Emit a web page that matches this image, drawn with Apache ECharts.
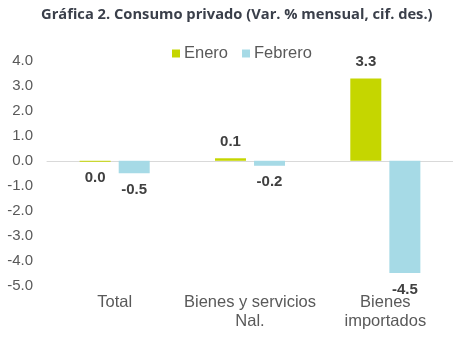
<!DOCTYPE html>
<html>
<head>
<meta charset="utf-8">
<script src="https://cdn.jsdelivr.net/npm/echarts@6/dist/echarts.min.js"></script>
<style>
  html, body { margin: 0; padding: 0; background: #fff; }
  #chart { width: 453px; height: 338px; }
</style>
</head>
<body>
<div id="chart"></div>
<script>
// Consumo privado: variación % mensual, cifras desestacionalizadas
const categories = ['Total', 'Bienes y servicios\nNal.', 'Bienes\nimportados'];
const enero = [-0.04, 0.1, 3.3];
const febrero = [-0.5, -0.2, -4.5];
const yTicks = { min: -5, max: 4, interval: 1 };

const fmt = v => {
  const r = Math.round(v * 10) / 10;
  return (r === 0 ? 0 : r).toFixed(1);
};

function barLabel() {
  return {
    show: true,
    position: 'top',
    distance: 9,
    fontFamily: 'Liberation Sans, Arial, sans-serif',
    fontSize: 15,
    fontWeight: 'bold',
    color: '#404040',
    formatter: p => fmt(p.value)
  };
}

function seriesData(values) {
  return values.map(v => ({
    value: v,
    label: { position: v < 0 ? 'bottom' : 'top' }
  }));
}

const chart = echarts.init(document.getElementById('chart'), null, { renderer: 'canvas' });
chart.setOption({
  animation: false,
  title: {
    text: 'Gráfica 2. Consumo privado (Var. % mensual, cif. des.)',
    left: 36,
    top: 2,
    textStyle: {
      fontFamily: 'Open Sans, sans-serif',
      fontSize: 14.7,
      fontWeight: 'bold',
      color: '#3a3f4a'
    }
  },
  legend: {
    top: 40,
    left: 167,
    itemWidth: 8,
    itemHeight: 8,
    itemGap: 14,
    icon: 'rect',
    textStyle: {
      fontFamily: 'Liberation Sans, Arial, sans-serif',
      fontSize: 16.5,
      color: '#595959',
      padding: [0, 0, 0, -1]
    },
    data: ['Enero', 'Febrero']
  },
  grid: { left: 47, width: 408, top: 61, bottom: 52.5, containLabel: false },
  xAxis: {
    type: 'category',
    data: categories,
    axisLine: { onZero: true, lineStyle: { color: '#d9d9d9', width: 1 } },
    axisTick: { show: false },
    axisLabel: {
      fontFamily: 'Liberation Sans, Arial, sans-serif',
      fontSize: 16.5,
      color: '#595959',
      lineHeight: 19,
      margin: 7,
      interval: 0
    }
  },
  yAxis: {
    type: 'value',
    min: yTicks.min,
    max: yTicks.max,
    interval: yTicks.interval,
    axisLine: { show: false },
    axisTick: { show: false },
    splitLine: { show: false },
    axisLabel: {
      fontFamily: 'Liberation Sans, Arial, sans-serif',
      fontSize: 15,
      color: '#595959',
      margin: 14,
      formatter: v => v.toFixed(1)
    }
  },
  series: [
    {
      name: 'Enero',
      type: 'bar',
      data: seriesData(enero),
      barWidth: 31,
      barGap: '26%',
      itemStyle: { color: '#c5d600' },
      label: barLabel()
    },
    {
      name: 'Febrero',
      type: 'bar',
      data: seriesData(febrero),
      barWidth: 31,
      barGap: '26%',
      itemStyle: { color: '#a6dae6' },
      label: barLabel()
    }
  ]
});
</script>
</body>
</html>
